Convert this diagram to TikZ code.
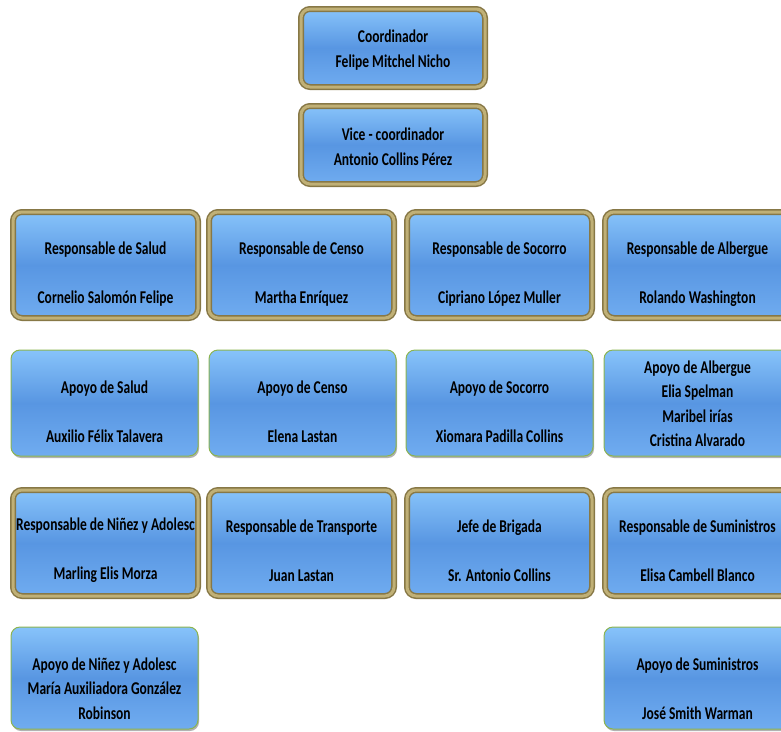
\documentclass[tikz,border=0pt]{standalone}
\usepackage{fontspec}
\newfontfamily\boxfont[FakeStretch=0.75]{Carlito}
\usetikzlibrary{shadows}
\definecolor{blueM}{RGB}{88,150,226}
\definecolor{blueT}{RGB}{135,195,250}
\definecolor{blueB}{RGB}{112,172,240}
\definecolor{goldD}{RGB}{135,120,70}
\definecolor{goldL}{RGB}{192,176,118}
\definecolor{greenE}{RGB}{140,180,80}
\tikzset{
  goldbox/.style={rectangle, rounded corners=9pt, top color=blueT, bottom color=blueB, middle color=blueM,
    draw=goldD, line width=1.5pt, double=goldL, double distance=3pt,
    drop shadow={shadow xshift=1pt, shadow yshift=-2pt, opacity=.3, fill=black}, inner sep=0pt},
  thinbox/.style={rectangle, rounded corners=9pt, top color=blueT, bottom color=blueB, middle color=blueM,
    draw=greenE, line width=1pt,
    drop shadow={shadow xshift=1pt, shadow yshift=-2pt, opacity=.3, fill=black}, inner sep=0pt},
  lbl/.style={font=\boxfont\bfseries\fontsize{18}{24.5}\selectfont, align=center, text=black, inner sep=0pt}
}
\begin{document}
\begin{tikzpicture}[x=1pt,y=-1pt]
\useasboundingbox (0,0) rectangle (781,731);
\clip (0,0) rectangle (781,731);
% row 1 and 2
\node[goldbox, minimum width=184pt, minimum height=78pt] (b1) at (393,48) {};
\node[lbl] (t1) at (393,50) {Coordinador\\Felipe Mitchel Nicho};
\node[goldbox, minimum width=184pt, minimum height=78pt] (b2) at (393,145) {};
\node[lbl] (t2) at (393,146.5) {Vice - coordinador\\Antonio Collins Pérez};
% row 3
\node[goldbox, minimum width=185pt, minimum height=106pt] (b31) at (105.5,265) {};
\node[goldbox, minimum width=185pt, minimum height=106pt] (b32) at (301.5,265) {};
\node[goldbox, minimum width=185pt, minimum height=106pt] (b33) at (499.5,265) {};
\node[goldbox, minimum width=185pt, minimum height=106pt] (b34) at (697.5,265) {};
\node[lbl] (t31) at (105.5,274) {Responsable de Salud\\[24.5pt]Cornelio Salomón Felipe};
\node[lbl] (t32) at (301.5,274) {Responsable de Censo\\[24.5pt]Martha Enríquez};
\node[lbl] (t33) at (499.5,274) {Responsable de Socorro\\[24.5pt]Cipriano López Muller};
\node[lbl] (t34) at (697.5,274) {Responsable de Albergue\\[24.5pt]Rolando Washington};
% row 4
\node[thinbox, minimum width=187pt, minimum height=106pt] (b41) at (104.5,403) {};
\node[thinbox, minimum width=187pt, minimum height=106pt] (b42) at (302.5,403) {};
\node[thinbox, minimum width=187pt, minimum height=106pt] (b43) at (499.5,403) {};
\node[thinbox, minimum width=187pt, minimum height=106pt] (b44) at (697.5,403) {};
\node[lbl] (t41) at (104.5,411.5) {Apoyo de Salud\\[24.5pt]Auxilio Félix Talavera};
\node[lbl] (t42) at (302.5,411.5) {Apoyo de Censo\\[24.5pt]Elena Lastan};
\node[lbl] (t43) at (499.5,411.5) {Apoyo de Socorro\\[24.5pt]Xiomara Padilla Collins};
\node[lbl] (t44) at (697.5,403.5) {Apoyo de Albergue\\Elia Spelman\\Maribel irías\\Cristina Alvarado};
% row 5
\node[goldbox, minimum width=185pt, minimum height=106pt] (b51) at (105.5,543) {};
\node[goldbox, minimum width=185pt, minimum height=106pt] (b52) at (301.5,543) {};
\node[goldbox, minimum width=185pt, minimum height=106pt] (b53) at (499.5,543) {};
\node[goldbox, minimum width=185pt, minimum height=106pt] (b54) at (697.5,543) {};
\node[lbl] (t51) at (105.5,550.5) {Responsable de Niñez y Adolesc\\[24.5pt]Marling Elis Morza};
\node[lbl] (t52) at (301.5,550.5) {Responsable de Transporte\\[24.5pt]Juan Lastan};
\node[lbl] (t53) at (499.5,550.5) {Jefe de Brigada\\[24.5pt]Sr. Antonio Collins};
\node[lbl] (t54) at (697.5,550.5) {Responsable de Suministros\\[24.5pt]Elisa Cambell Blanco};
% row 6
\node[thinbox, minimum width=187pt, minimum height=102pt] (b61) at (104.5,678) {};
\node[thinbox, minimum width=187pt, minimum height=102pt] (b64) at (697.5,678) {};
\node[lbl] (t61) at (104.5,688.5) {Apoyo de Niñez y Adolesc\\María Auxiliadora González\\Robinson};
\node[lbl] (t64) at (697.5,688.5) {Apoyo de Suministros\\[24.5pt]José Smith Warman};
\end{tikzpicture}
\end{document}
